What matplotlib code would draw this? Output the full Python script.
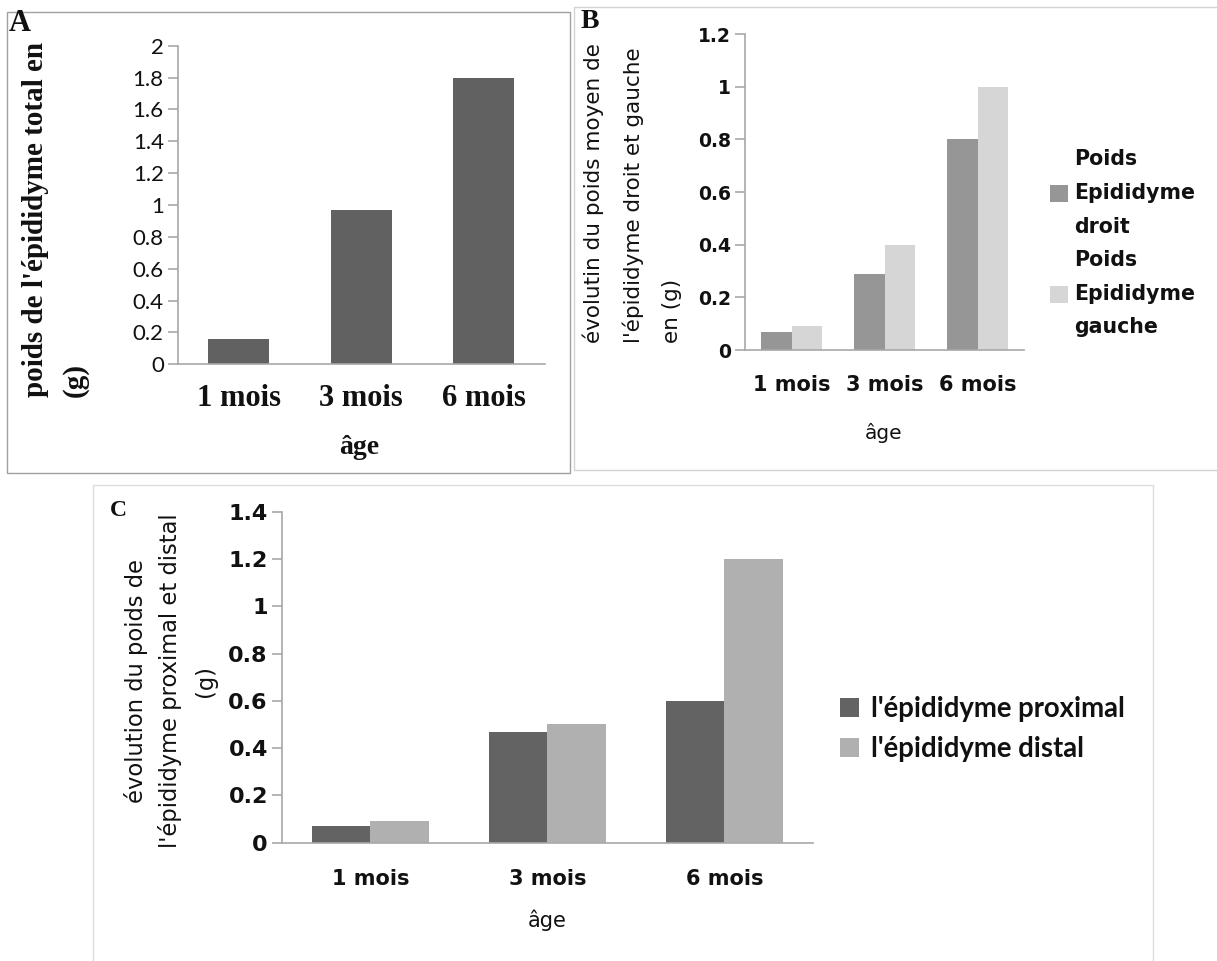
import numpy as np
import matplotlib.pyplot as plt
from matplotlib.patches import Rectangle

# data
categories = ['1 mois', '3 mois', '6 mois']
total_weight = [0.16, 0.97, 1.8]
right_weight = [0.07, 0.29, 0.8]
left_weight = [0.09, 0.4, 1.0]
proximal_weight = [0.07, 0.47, 0.6]
distal_weight = [0.09, 0.5, 1.2]

yticks_a = [0, 0.2, 0.4, 0.6, 0.8, 1, 1.2, 1.4, 1.6, 1.8, 2]
yticks_b = [0, 0.2, 0.4, 0.6, 0.8, 1, 1.2]
yticks_c = [0, 0.2, 0.4, 0.6, 0.8, 1, 1.2, 1.4]

ylabel_c = ["évolution du poids de", "l'épididyme proximal et distal", "(g)"]

W, H = 1217, 961
SERIF = 'Liberation Serif'
SANS = 'DejaVu Sans'
GRID = '#a8a8a8'
TXT = '#111111'

fig = plt.figure(figsize=(W / 100, H / 100), dpi=100)


def px_axes(left, top, right, bottom):
    return fig.add_axes([left / W, 1 - bottom / H, (right - left) / W, (bottom - top) / H])


def px(x, y):
    return x / W, 1 - y / H


def style(ax, ticks, tick_font, tick_size, tick_weight, xfont, xsize, xweight, xpad):
    for s in ['top', 'right']:
        ax.spines[s].set_visible(False)
    for s in ['left', 'bottom']:
        ax.spines[s].set_color(GRID)
        ax.spines[s].set_linewidth(1.2)
    ax.set_yticks(ticks)
    ax.set_yticklabels([f'{t:g}' for t in ticks], fontfamily=tick_font,
                       fontsize=tick_size, fontweight=tick_weight, color=TXT)
    ax.tick_params(axis='y', length=7.5, width=1.2, color=GRID, pad=2.5)
    ax.set_xticks(range(len(categories)))
    ax.set_xticklabels(categories, fontfamily=xfont, fontsize=xsize,
                       fontweight=xweight, color=TXT)
    ax.tick_params(axis='x', length=0, pad=xpad)
    ax.set_xlim(-0.5, len(categories) - 0.5)


x = np.arange(len(categories))

# frames around the panels
fig.patches.append(Rectangle(px(7, 473), 563 / W, 461 / H, transform=fig.transFigure,
                             fill=False, edgecolor='#a0a0a0', lw=1))
fig.patches.append(Rectangle(px(574, 470), 700 / W, 463 / H, transform=fig.transFigure,
                             fill=False, edgecolor='#d4d4d4', lw=1))
fig.patches.append(Rectangle(px(93, 990), 1060 / W, 505 / H, transform=fig.transFigure,
                             fill=False, edgecolor='#dcdcdc', lw=1))

# ---- A ----
ax_a = px_axes(177.7, 45.7, 544.6, 364.3)
ax_a.bar(x, total_weight, width=0.5, color='#616161')
ax_a.set_ylim(0, 2)
style(ax_a, yticks_a, 'Lato', 16, 'normal', SERIF, 22, 'bold', 14)
fig.text(*px(359, 448), 'âge', fontfamily=SERIF, fontsize=20, fontweight='bold',
         ha='center', va='center', color=TXT)
fig.text(*px(55, 397), "poids de l'épididyme total en\n(g)", fontfamily=SERIF,
         fontsize=21, fontweight='bold', rotation=90, rotation_mode='anchor',
         ha='left', va='center', multialignment='left', linespacing=1.6, color=TXT)
fig.text(*px(9, 31), 'A', fontfamily=SERIF, fontsize=22, fontweight='bold',
         ha='left', va='baseline', color=TXT)

# ---- B ----
ax_b = px_axes(745, 34, 1024, 350)
w = 0.33
b1 = ax_b.bar(x - w / 2, right_weight, width=w, color='#969696')
b2 = ax_b.bar(x + w / 2, left_weight, width=w, color='#d6d6d6')
ax_b.set_ylim(0, 1.2)
style(ax_b, yticks_b, SANS, 13.5, 'bold', SANS, 15, 'bold', 18)
fig.text(*px(884, 433), 'âge', fontfamily=SANS, fontsize=14.5,
         ha='center', va='center', color=TXT)
fig.text(*px(632, 343), "évolutin du poids moyen de\nl'épididyme droit et gauche\nen (g)",
         fontfamily=SANS, fontsize=15.5, rotation=90, rotation_mode='anchor',
         ha='left', va='center', multialignment='left', linespacing=2.1, color=TXT)
fig.text(*px(581, 28), 'B', fontfamily=SERIF, fontsize=20, fontweight='bold',
         ha='left', va='baseline', color=TXT)
leg_b = fig.legend([b1, b2], ['Poids\nEpididyme\ndroit', 'Poids\nEpididyme\ngauche'],
                   loc='upper left', bbox_to_anchor=px(1050, 149), frameon=False,
                   borderpad=0, borderaxespad=0, handlelength=0.88, handleheight=0.88,
                   handletextpad=0.3, labelspacing=0.62,
                   prop={'family': SANS, 'size': 14.8, 'weight': 'bold'})
for t in leg_b.get_texts():
    t.set_linespacing(1.87)
    t.set_color(TXT)

# ---- C ----
ax_c = px_axes(281.7, 511.7, 813, 842.7)
c1 = ax_c.bar(x - w / 2, proximal_weight, width=w, color='#636363')
c2 = ax_c.bar(x + w / 2, distal_weight, width=w, color='#b0b0b0')
ax_c.set_ylim(0, 1.4)
style(ax_c, yticks_c, SANS, 16, 'bold', SANS, 15, 'bold', 19)
fig.text(*px(547, 920), 'âge', fontfamily=SANS, fontsize=15,
         ha='center', va='center', color=TXT)
for line, lx in zip(ylabel_c, [136, 170, 205]):
    fig.text(*px(lx, 681), line, fontfamily=SANS, fontsize=16.3, rotation=90,
             ha='center', va='center', color=TXT)
fig.text(*px(110, 516), 'C', fontfamily=SERIF, fontsize=17, fontweight='bold',
         ha='left', va='baseline', color=TXT)
leg_c = fig.legend([c1, c2], ["l'épididyme proximal", "l'épididyme distal"],
                   loc='upper left', bbox_to_anchor=px(840, 696), frameon=False,
                   borderpad=0, borderaxespad=0, handlelength=0.68, handleheight=0.68,
                   handletextpad=0.45, labelspacing=0.5,
                   prop={'family': 'Lato', 'size': 19.8, 'weight': 'bold'})
for t in leg_c.get_texts():
    t.set_color(TXT)

fig.savefig('out.png', dpi=100)
